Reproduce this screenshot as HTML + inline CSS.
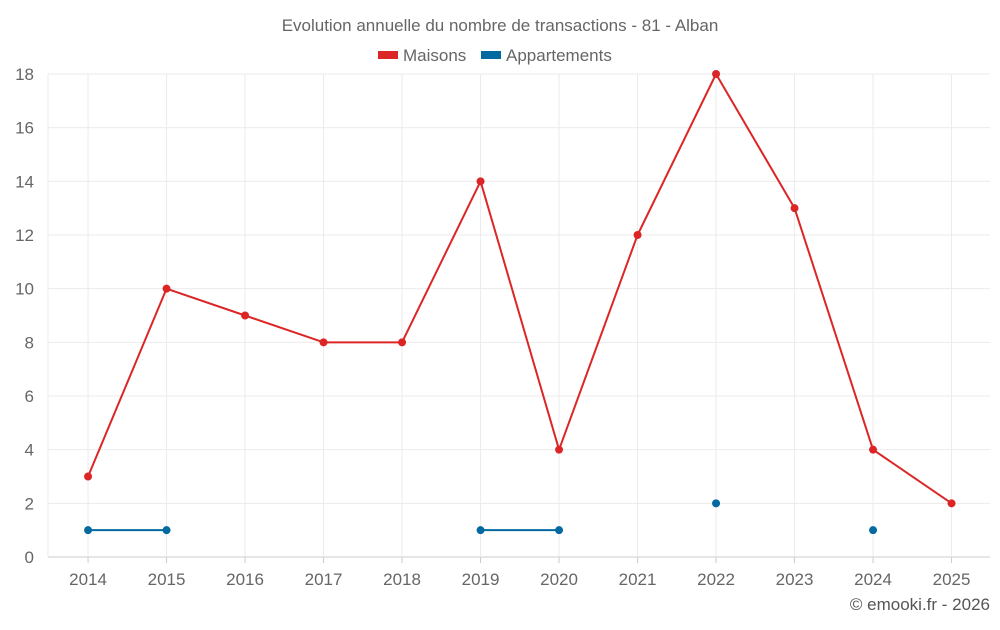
<!DOCTYPE html>
<html><head><meta charset="utf-8"><style>
body{margin:0;background:#fff;}
svg{font-family:"Liberation Sans",Roboto,sans-serif;}
</style></head><body>
<svg id="chart" width="1000" height="625">
<text x="500" y="31" text-anchor="middle" font-size="17" fill="#666">Evolution annuelle du nombre de transactions - 81 - Alban</text>
<g><rect x="378" y="51" width="20" height="8" fill="#dc2626"/><text x="403" y="61" font-size="17" fill="#666">Maisons</text></g>
<g><rect x="481" y="51" width="20" height="8" fill="#0369a1"/><text x="506" y="61" font-size="17" fill="#666">Appartements</text></g>
<g id="grid"></g><g id="axes"></g><g id="series"></g>
<text x="990" y="610" text-anchor="end" font-size="17" fill="#555">© emooki.fr - 2026</text>
</svg>
<script>
const categories=["2014","2015","2016","2017","2018","2019","2020","2021","2022","2023","2024","2025"];
const maisons=[3,10,9,8,8,14,4,12,18,13,4,2];
const appartements=[1,1,null,null,null,1,1,null,2,null,1,null];
const yTicks=[0,2,4,6,8,10,12,14,16,18];
const L=48,R=990,T=74,B=557,yMax=18;
const ns="http://www.w3.org/2000/svg";
const bw=(R-L)/categories.length;
const x=i=>L+0.8+(i+0.5)*bw;
const y=v=>B-(v/yMax)*(B-T);
function mk(t,a,p){const e=document.createElementNS(ns,t);for(const k in a)e.setAttribute(k,a[k]);p.appendChild(e);return e;}
const grid=document.getElementById('grid'),axes=document.getElementById('axes'),ser=document.getElementById('series');
yTicks.forEach(v=>{
 const l=mk('line',{x1:L,x2:R,y1:y(v),y2:y(v),stroke:v===0?'#ccc':'#ebebeb'},grid);
 
 
 const t=mk('text',{x:34,y:y(v)+6,'text-anchor':'end','font-size':17,fill:'#666'},axes);t.textContent=v;
 
 
});
mk('line',{x1:L,x2:L,y1:T,y2:B,stroke:'#ebebeb'},grid);
categories.forEach((c,i)=>{
 const l=mk('line',{x1:x(i),x2:x(i),y1:T,y2:B,stroke:'#ebebeb'},grid);
 
 
 mk('line',{x1:x(i),x2:x(i),y1:B,y2:B+6,stroke:'#ccc'},axes);
 const t=mk('text',{x:x(i),y:585,'text-anchor':'middle','font-size':17,fill:'#666'},axes);t.textContent=c;
 
 
});
function draw(data,color,name){
 const g=mk('g',{},ser);
 
 
 for(let i=0;i<data.length-1;i++){
  if(data[i]!=null&&data[i+1]!=null){
   const l=mk('line',{x1:x(i),y1:y(data[i]),x2:x(i+1),y2:y(data[i+1]),stroke:color,'stroke-width':2},g);
   
   
  }
 }
 data.forEach((v,i)=>{if(v==null)return;
  const c=mk('circle',{cx:x(i),cy:y(v),r:4,fill:color},g);
  
  
 });
}
draw(maisons,'#dc2626','maisons');
draw(appartements,'#0369a1','appartements');
</script>
</body></html>
